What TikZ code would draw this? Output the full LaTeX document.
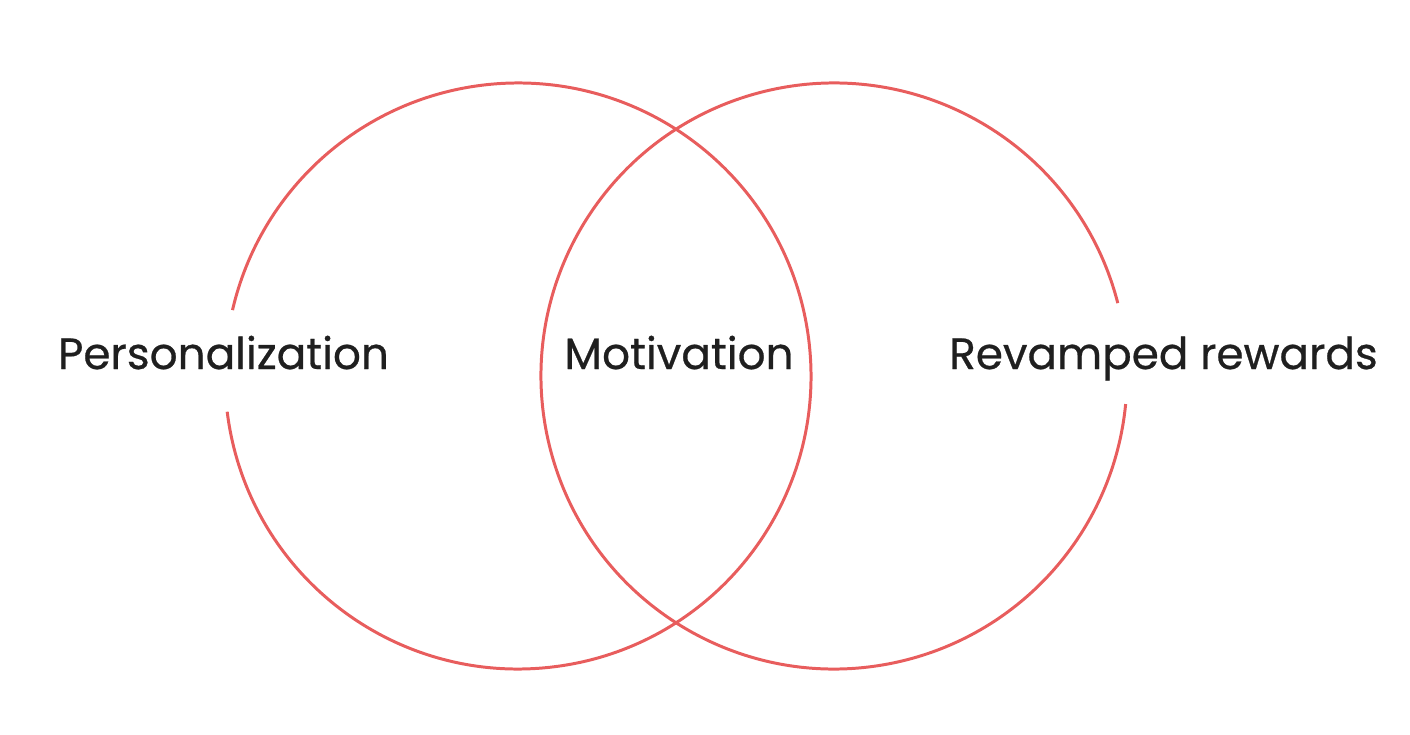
\documentclass[tikz,border=0pt]{standalone}
\usepackage{fontspec}
\setmainfont{Poppins}[FakeBold=0.6]
\definecolor{vennred}{HTML}{E85D5D}
\definecolor{labelgray}{HTML}{1F1F1F}

\begin{document}
\begin{tikzpicture}[
  ring/.style={draw=vennred, line width=1.7pt},
  lbl/.style={anchor=base, text=labelgray, inner sep=0pt, font=\fontsize{24.9}{29}\selectfont}]
  \useasboundingbox(0,0) rectangle (28.2,14.68);
  \coordinate(cl) at (10.36,7.16);
  \coordinate(cr) at (16.68,7.16);
  \draw[ring]([shift={(187:5.86)}]cl) arc[start angle=187, end angle=527, radius=5.86];
  \draw[ring]([shift={(14.4:5.86)}]cr) arc[start angle=14.4, end angle=354.5, radius=5.86];
  \node[lbl](pers) at (4.47,7.30){Personalization};
  \node[lbl](moti) at (13.58,7.30){Motivation};
  \node[lbl](rewa) at (23.27,7.30){Revamped rewards};
\end{tikzpicture}
\end{document}
